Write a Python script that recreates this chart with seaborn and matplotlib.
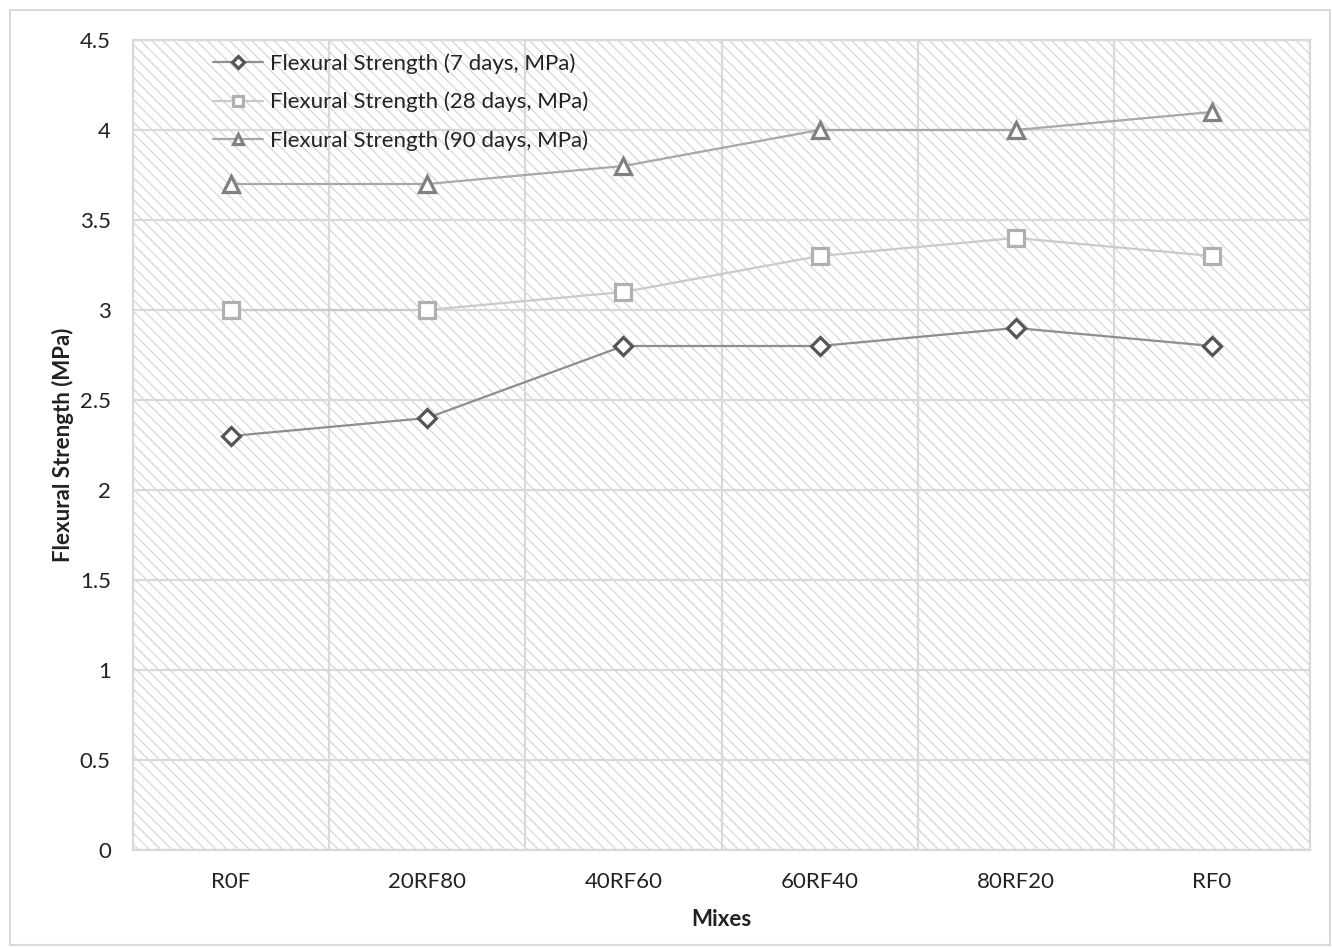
import matplotlib
matplotlib.use("Agg")
import matplotlib.pyplot as plt
from matplotlib.patches import Rectangle
from matplotlib.ticker import MultipleLocator, FixedLocator
import pandas as pd
import seaborn as sns

# Mix designations and flexural strength results (MPa)
mixes = ["R0F", "20RF80", "40RF60", "60RF40", "80RF20", "RF0"]
fs_7 = [2.3, 2.4, 2.8, 2.8, 2.9, 2.8]
fs_28 = [3.0, 3.0, 3.1, 3.3, 3.4, 3.3]
fs_90 = [3.7, 3.7, 3.8, 4.0, 4.0, 4.1]
series_names = [
    "Flexural Strength (7 days, MPa)",
    "Flexural Strength (28 days, MPa)",
    "Flexural Strength (90 days, MPa)",
]

sns.set_theme(style="white")
plt.rcParams["font.family"] = ["Lato", "DejaVu Sans"]
plt.rcParams["hatch.linewidth"] = 0.9

FS = 16
TXT = "#222222"
GRID = "#d9d9d9"

fig = plt.figure(figsize=(13.32, 9.47), dpi=100)
ax = fig.add_axes([133 / 1332, 1 - 850 / 947, (1310 - 133) / 1332, (850 - 40) / 947])

# Outer chart border
fig.patches.append(Rectangle((10 / 1332, 2 / 947), 1320 / 1332, 935 / 947,
                             transform=fig.transFigure, fill=False,
                             edgecolor=GRID, linewidth=1.5, zorder=0))

# Fine diagonal hatched plot area background
ax.patch.set_facecolor("white")
bg = Rectangle((0, 0), 1, 1, transform=ax.transAxes, facecolor="none",
               edgecolor="#d6d6d6", linewidth=0, hatch="\\\\\\", zorder=0.5)
ax.add_patch(bg)

df = pd.DataFrame({"Mix": mixes * 3,
                   "Strength": fs_7 + fs_28 + fs_90,
                   "Series": [series_names[0]] * 6 + [series_names[1]] * 6 + [series_names[2]] * 6})

styles = [
    dict(color="#8e8e8e", marker="D", mec="#555555", ms=9),
    dict(color="#cacaca", marker="s", mec="#b0b0b0", ms=11),
    dict(color="#a8a8a8", marker="^", mec="#808080", ms=12),
]
for name, st in zip(series_names, styles):
    sub = df[df["Series"] == name]
    sns.lineplot(data=sub, x="Mix", y="Strength", ax=ax, label=name,
                 color=st["color"], marker=st["marker"], markersize=st["ms"],
                 markerfacecolor="white", markeredgecolor=st["mec"],
                 markeredgewidth=2.3, linewidth=1.6, sort=False, zorder=3)

ax.set_xlim(-0.5, len(mixes) - 0.5)
ax.set_ylim(0, 4.5)
ax.yaxis.set_major_locator(MultipleLocator(0.5))
ax.yaxis.set_major_formatter(plt.FuncFormatter(lambda v, p: f"{v:g}"))
ax.xaxis.set_minor_locator(FixedLocator([i + 0.5 for i in range(-1, len(mixes))]))

ax.grid(False)
ax.yaxis.grid(True, which="major", color=GRID, linewidth=1.6, zorder=1)
ax.xaxis.grid(True, which="minor", color=GRID, linewidth=1.6, zorder=1)
ax.set_axisbelow(True)
for s in ax.spines.values():
    s.set_color(GRID)
    s.set_linewidth(1.6)

ax.tick_params(axis="both", which="both", length=0, labelsize=FS, labelcolor=TXT)
ax.tick_params(axis="y", pad=16)
ax.tick_params(axis="x", pad=16)

ax.set_xlabel("Mixes", fontsize=FS, fontweight="bold", color=TXT, labelpad=12)
ax.set_ylabel("Flexural Strength (MPa)", fontsize=FS, fontweight="bold",
              color=TXT, labelpad=4)

leg = ax.legend(loc="upper left", bbox_to_anchor=(0.06, 0.995), frameon=False,
                fontsize=FS, handlelength=2.25, labelspacing=0.82,
                handletextpad=0.35, borderaxespad=0, markerscale=0.65)
for t in leg.get_texts():
    t.set_color(TXT)

fig.savefig("out.png", dpi=100)
